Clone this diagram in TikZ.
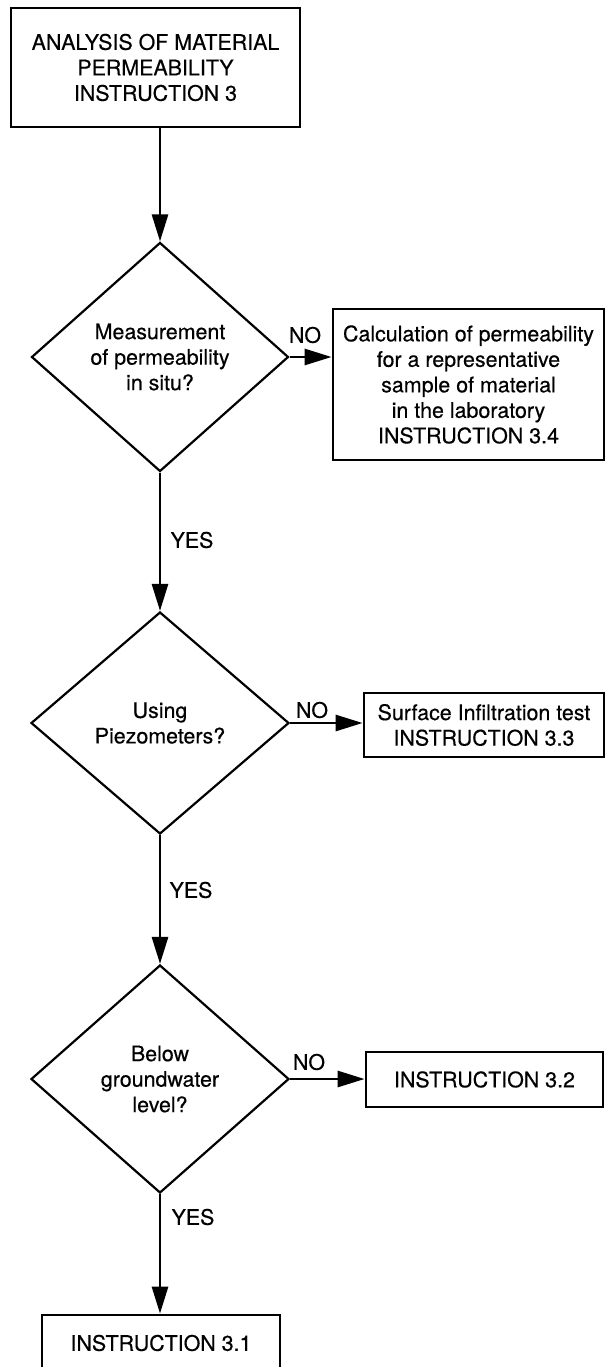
\documentclass[tikz,border=0pt]{standalone}
\usepackage{fontspec}
\setmainfont{TeX Gyre Heros}[FakeBold=0.4]
\usetikzlibrary{shapes.geometric,arrows.meta}
\newcommand\myfs{\fontsize{21.4}{25.5}\selectfont}
\begin{document}
\begin{tikzpicture}[x=1pt,y=-1pt,
  box/.style={draw,line width=2.8pt,inner sep=0pt,align=center,font=\myfs},
  dec/.style={draw,diamond,line width=2.2pt,inner sep=0pt,align=center,font=\myfs},
  lbl/.style={inner sep=0pt,font=\myfs},
  arr/.style={line width=2.8pt,-{Triangle[length=27pt,width=16pt]}}]
\useasboundingbox (0,0) rectangle (605,1367);

\node[box,minimum width=289pt,minimum height=119pt] (top) at (155.5,67.5)
  {ANALYSIS OF MATERIAL\\PERMEABILITY\\INSTRUCTION 3};

\node[dec,minimum width=257pt,minimum height=229pt] (d1) at (160,357)
  {Measurement\\of permeability\\in situ?};
\node[box,minimum width=271pt,minimum height=151pt] (b34) at (468.5,384.5)
  {Calculation of permeability\\for a representative\\sample of material\\in the laboratory\\INSTRUCTION 3.4};
\node[lbl] (no1) at (305,335) {NO};
\node[lbl] (yes1) at (192,540) {YES};

\node[dec,minimum width=258pt,minimum height=222pt] (d2) at (160,723)
  {Using\\Piezometers?};
\node[box,minimum width=240pt,minimum height=64pt] (b33) at (484,725)
  {Surface Infiltration test\\INSTRUCTION 3.3};
\node[lbl] (no2) at (312,710) {NO};
\node[lbl] (yes2) at (191,890) {YES};

\node[dec,minimum width=258pt,minimum height=228pt] (d3) at (160,1079)
  {Below\\groundwater\\level?};
\node[box,minimum width=237pt,minimum height=55pt] (b32) at (484.5,1079.5)
  {INSTRUCTION 3.2};
\node[lbl] (no3) at (309,1062) {NO};
\node[lbl] (yes3) at (193,1217) {YES};

\node[box,minimum width=238pt,minimum height=56pt] (b31) at (161,1343)
  {INSTRUCTION 3.1};

\draw[arr] (d1.north |- top.south) -- (d1.north);
\draw[arr] (d1.east) -- (d1.east -| b34.west);
\draw[arr] (d1.south) -- (d2.north);
\draw[arr] (d2.east) -- (d2.east -| b33.west);
\draw[arr] (d2.south) -- (d3.north);
\draw[arr] (d3.east) -- (d3.east -| b32.west);
\draw[arr] (d3.south) -- (d3.south |- b31.north);
\end{tikzpicture}
\end{document}
